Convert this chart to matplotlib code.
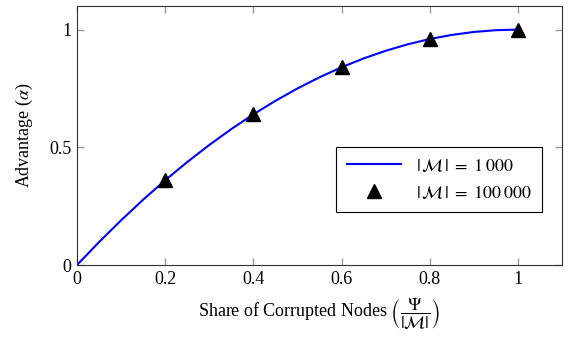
import matplotlib
matplotlib.use("Agg")
from matplotlib import pyplot as plt

plt.rc('font', family='Liberation Serif', size=13)
plt.rc('mathtext', fontset='stix')

# values
share_line = [0.0, 0.05, 0.1, 0.15, 0.2, 0.25, 0.3, 0.35, 0.4, 0.45, 0.5,
              0.55, 0.6, 0.65, 0.7, 0.75, 0.8, 0.85, 0.9, 0.95, 1.0]
adv_line = [0.0, 0.0975, 0.19, 0.2775, 0.36, 0.4375, 0.51, 0.5775, 0.64, 0.6975, 0.75,
            0.7975, 0.84, 0.8775, 0.91, 0.9375, 0.96, 0.9775, 0.99, 0.9975, 1.0]
share_pts = [0.2, 0.4, 0.6, 0.8, 1.0]
adv_pts = [0.36, 0.64, 0.84, 0.96, 1.0]
xticks = [0, 0.2, 0.4, 0.6, 0.8, 1]
xtick_labels = ["0", "0.2", "0.4", "0.6", "0.8", "1"]
yticks = [0, 0.5, 1]
ytick_labels = ["0", "0.5", "1"]

fig = plt.figure(figsize=(5.69, 3.37), dpi=100)
ax = fig.add_axes([0.1353, 0.2136, 0.8524, 0.7684])

ax.plot(share_line, adv_line, color='blue', lw=1.5, label=r'$|\,\mathcal{M}\,|\;=\;1\:000$')
ax.plot(share_pts, adv_pts, ls='none', marker='^', color='black', ms=10,
        label=r'$|\,\mathcal{M}\,|\;=\;100\:000$')

ax.set_xlim(0, 1.1)
ax.set_ylim(0, 1.1)
ax.set_xticks(xticks)
ax.set_xticklabels(xtick_labels)
ax.set_yticks(yticks)
ax.set_yticklabels(ytick_labels)
ax.tick_params(direction='in', length=5, color='0.6', width=1,
               top=True, right=True, pad=4)
for s in ax.spines.values():
    s.set_color('0.2')

ax.set_ylabel(r'Advantage ($\alpha$)', labelpad=10)
ax.set_xlabel(r'Share of Corrupted Nodes $\left(\dfrac{\Psi}{|\mathcal{M}|}\right)$', labelpad=6)

leg = ax.legend(loc='center right', bbox_to_anchor=(0.959, 0.33), borderaxespad=0,
                fancybox=False, edgecolor='black', framealpha=1, borderpad=0.6,
                handlelength=3, labelspacing=0.55)
leg.get_frame().set_linewidth(0.8)

fig.savefig("out.png", dpi=100)
